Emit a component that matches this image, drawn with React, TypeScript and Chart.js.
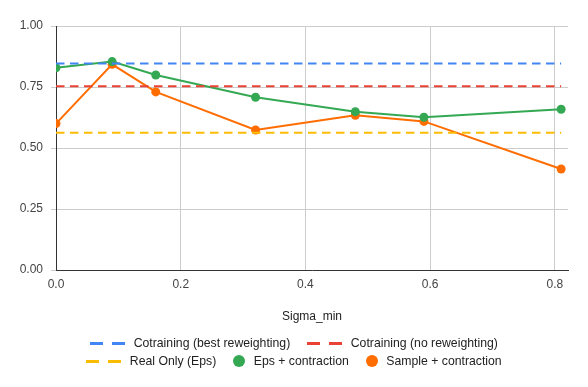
import React, { useEffect, useRef } from "react";
import { Chart, registerables } from "chart.js";

Chart.register(...registerables);

const sigmaMin = [0, 0.09, 0.16, 0.32, 0.48, 0.59, 0.81];
const cotrainingBest = [0.846, 0.846, 0.846, 0.846, 0.846, 0.846, 0.846];
const cotrainingNoRew = [0.753, 0.753, 0.753, 0.753, 0.753, 0.753, 0.753];
const realOnlyEps = [0.563, 0.563, 0.563, 0.563, 0.563, 0.563, 0.563];
const epsContraction = [0.829, 0.854, 0.799, 0.708, 0.649, 0.626, 0.659];
const sampleContraction = [0.6, 0.843, 0.73, 0.574, 0.634, 0.609, 0.414];

const xTicks = [0, 0.2, 0.4, 0.6, 0.8];
const yTicks = [0, 0.25, 0.5, 0.75, 1];

const seriesNames = [
  "Cotraining (best reweighting)",
  "Cotraining (no reweighting)",
  "Real Only (Eps)",
  "Eps + contraction",
  "Sample + contraction",
];
const seriesColors = ["#4285F4", "#EA4335", "#FBBC04", "#34A853", "#FF6D01"];

const FONT = "'Liberation Sans', Arial, sans-serif";

function toPoints(ys: number[]) {
  return ys.map((y, i) => ({ x: sigmaMin[i], y }));
}

function LegendItem({ idx }: { idx: number }) {
  const color = seriesColors[idx];
  const dashed = idx < 3;
  return (
    <div style={{ display: "flex", alignItems: "center", margin: "0 8.5px" }}>
      {dashed ? (
        <div style={{ display: "flex", width: 35, height: 3, justifyContent: "space-between" }}>
          <div style={{ width: 13, height: 3, background: color }} />
          <div style={{ width: 13, height: 3, background: color }} />
        </div>
      ) : (
        <div style={{ width: 12, height: 12, borderRadius: 6, background: color }} />
      )}
      <span style={{ marginLeft: 8.5, whiteSpace: "nowrap" }}>{seriesNames[idx]}</span>
    </div>
  );
}

export default function App() {
  const ref = useRef<HTMLCanvasElement | null>(null);

  useEffect(() => {
    if (!ref.current) return;
    const lineDs = (i: number, ys: number[]) => ({
      label: seriesNames[i],
      data: toPoints(ys),
      borderColor: seriesColors[i],
      backgroundColor: seriesColors[i],
      borderWidth: 2,
      borderDash: [8.5, 5.5],
      pointRadius: 0,
      pointHoverRadius: 0,
      tension: 0,
    });
    const ptDs = (i: number, ys: number[]) => ({
      label: seriesNames[i],
      data: toPoints(ys),
      borderColor: seriesColors[i],
      backgroundColor: seriesColors[i],
      borderWidth: 2,
      pointRadius: 4.5,
      pointBorderWidth: 0,
      pointBackgroundColor: seriesColors[i],
      tension: 0,
    });
    const chart = new Chart(ref.current, {
      type: "line",
      data: {
        datasets: [
          lineDs(0, cotrainingBest),
          lineDs(1, cotrainingNoRew),
          lineDs(2, realOnlyEps),
          ptDs(3, epsContraction),
          ptDs(4, sampleContraction),
        ] as any,
      },
      options: {
        animation: false,
        responsive: false,
        events: [],
        layout: { padding: { left: 0, right: 20, top: 26, bottom: 57 } },
        plugins: { legend: { display: false }, tooltip: { enabled: false } },
        scales: {
          x: {
            type: "linear",
            min: 0,
            max: 0.821,
            afterBuildTicks: (s: any) => {
              s.ticks = xTicks.map((v) => ({ value: v }));
            },
            afterFit: (s: any) => {
              s.height = 60;
            },
            grid: { color: "#cccccc", drawTicks: false },
            border: { color: "#333333", width: 1 },
            ticks: {
              padding: 7,
              color: "#444444",
              font: { family: FONT, size: 12 },
              callback: (v: any) => Number(v).toFixed(1),
              maxRotation: 0,
            },
            title: {
              display: true,
              text: "Sigma_min",
              color: "#222222",
              font: { family: FONT, size: 12 },
              padding: { top: 0, bottom: 6 },
            },
          },
          y: {
            type: "linear",
            min: 0,
            max: 1,
            afterBuildTicks: (s: any) => {
              s.ticks = yTicks.map((v) => ({ value: v }));
            },
            afterFit: (s: any) => {
              s.width = 56;
            },
            grid: { color: "#cccccc", drawTicks: true, tickLength: 5 },
            border: { color: "#333333", width: 1 },
            ticks: {
              padding: 8,
              color: "#444444",
              font: { family: FONT, size: 12 },
              callback: (v: any) => Number(v).toFixed(2),
            },
          },
        },
      } as any,
    });
    return () => chart.destroy();
  }, []);

  return (
    <div
      style={{
        position: "fixed",
        left: 0,
        top: 0,
        width: 588,
        height: 387,
        background: "#ffffff",
        fontFamily: FONT,
        fontSize: 12.25,
        color: "#222222",
      }}
    >
      <canvas ref={ref} width={588} height={387} style={{ width: 588, height: 387, display: "block" }} />
      <div style={{ position: "absolute", left: 0, top: 334, width: 588 }}>
        <div style={{ display: "flex", justifyContent: "center", height: 18, alignItems: "center" }}>
          <LegendItem idx={0} />
          <LegendItem idx={1} />
        </div>
        <div style={{ display: "flex", justifyContent: "center", height: 18, alignItems: "center" }}>
          <LegendItem idx={2} />
          <LegendItem idx={3} />
          <LegendItem idx={4} />
        </div>
      </div>
    </div>
  );
}
